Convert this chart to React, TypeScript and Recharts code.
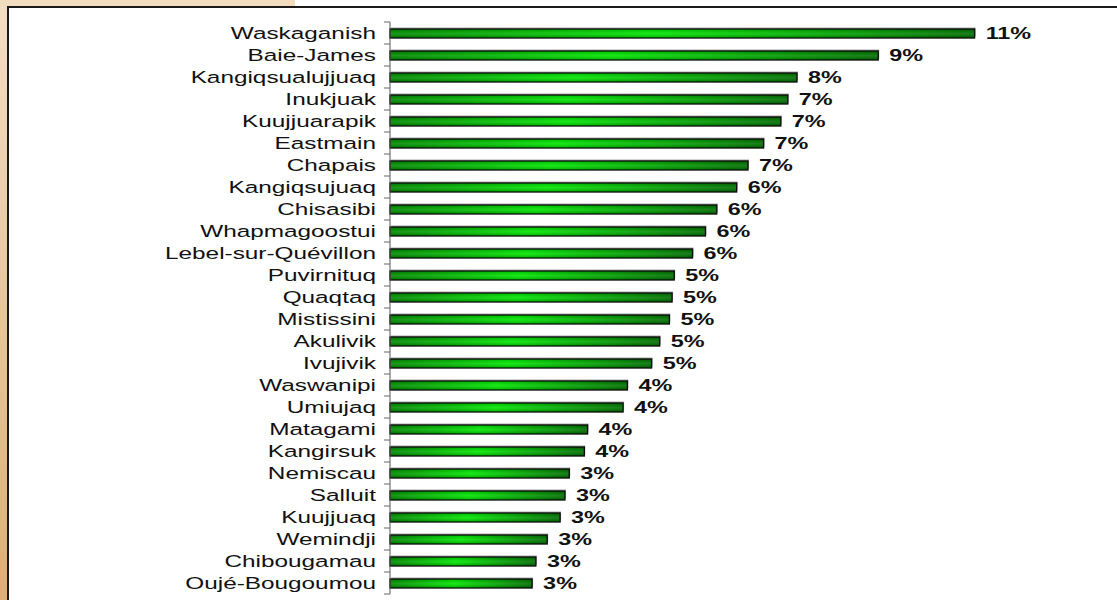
import { Bar, BarChart, LabelList, XAxis, YAxis } from "recharts";

const communities = [
  "Waskaganish",
  "Baie-James",
  "Kangiqsualujjuaq",
  "Inukjuak",
  "Kuujjuarapik",
  "Eastmain",
  "Chapais",
  "Kangiqsujuaq",
  "Chisasibi",
  "Whapmagoostui",
  "Lebel-sur-Quévillon",
  "Puvirnituq",
  "Quaqtaq",
  "Mistissini",
  "Akulivik",
  "Ivujivik",
  "Waswanipi",
  "Umiujaq",
  "Matagami",
  "Kangirsuk",
  "Nemiscau",
  "Salluit",
  "Kuujjuaq",
  "Wemindji",
  "Chibougamau",
  "Oujé-Bougoumou",
];

const shares = [
  10.86, 9.07, 7.56, 7.39, 7.26, 6.94, 6.65, 6.44, 6.07, 5.86, 5.62, 5.28,
  5.24, 5.19, 5.01, 4.86, 4.41, 4.33, 3.67, 3.61, 3.33, 3.25, 3.16, 2.92,
  2.71, 2.64,
];

const xDomain: [number, number] = [0, 12];

const data = communities.map((name, i) => ({ name, value: shares[i] }));

const CHART_W = 1117;
const CHART_H = 600;
const MARGIN = { top: 22, right: 81, bottom: 6, left: 0 };
const AXIS_X = 390;
const BAND = (CHART_H - MARGIN.top - MARGIN.bottom) / communities.length;
const FONT = '"Liberation Sans", Arial, sans-serif';

const CategoryTick = (props: any) => {
  const { y, payload, index } = props;
  const last = index === communities.length - 1;
  return (
    <g>
      <line x1={AXIS_X - 6} x2={AXIS_X} y1={y - BAND / 2} y2={y - BAND / 2} stroke="#666" />
      {last ? (
        <line x1={AXIS_X - 6} x2={AXIS_X} y1={y + BAND / 2} y2={y + BAND / 2} stroke="#666" />
      ) : null}
      <text
        transform={`translate(376, ${y}) scale(1.56, 1)`}
        textAnchor="end"
        dominantBaseline="central"
        fontFamily={FONT}
        fontSize={15.6}
        fill="#111"
      >
        {payload.value}
      </text>
    </g>
  );
};

const GradientBar = (props: any) => {
  const { x, y, width, height } = props;
  if (!width || width <= 0) return null;
  return (
    <g>
      <rect x={x + 1} y={y - 1.5} width={width} height={height} fill="#a8a8a8" />
      <rect x={x} y={y} width={width} height={height} fill="url(#barH)" stroke="#0a0a0a" strokeWidth={1.3} />
      <rect x={x + 0.7} y={y + 0.7} width={width - 1.4} height={height - 1.4} fill="url(#barV)" />
    </g>
  );
};

const ValueLabel = (props: any) => {
  const { x, y, width, height, value } = props;
  return (
    <text
      transform={`translate(${x + width + 11}, ${y + height / 2}) scale(1.5, 1)`}
      dominantBaseline="central"
      fontFamily={FONT}
      fontWeight="bold"
      fontSize={15.6}
      fill="#111"
    >
      {`${Math.round(value)}%`}
    </text>
  );
};

export default function App() {
  return (
    <div
      style={{
        position: "fixed",
        left: 0,
        top: 0,
        width: CHART_W,
        height: CHART_H,
        background: "#fff",
        overflow: "hidden",
      }}
    >
      <svg width={0} height={0} style={{ position: "absolute" }}>
        <defs>
          <linearGradient id="barH" x1="0" y1="0" x2="1" y2="0">
            <stop offset="0%" stopColor="#008800" />
            <stop offset="45%" stopColor="#00e400" />
            <stop offset="100%" stopColor="#006e00" />
          </linearGradient>
          <linearGradient id="barV" x1="0" y1="0" x2="0" y2="1">
            <stop offset="0%" stopColor="#000" stopOpacity={0.12} />
            <stop offset="50%" stopColor="#fff" stopOpacity={0.1} />
            <stop offset="100%" stopColor="#000" stopOpacity={0.18} />
          </linearGradient>
        </defs>
      </svg>
      <div
        style={{
          position: "absolute",
          left: 0,
          top: 0,
          width: 8,
          height: CHART_H,
          background: "linear-gradient(#f3dfc5, #dcae75)",
        }}
      />
      <div
        style={{
          position: "absolute",
          left: 0,
          top: 0,
          width: 295,
          height: 7,
          background: "#f2dcc0",
        }}
      />
      <div
        style={{
          position: "absolute",
          left: 7,
          top: 6,
          width: CHART_W,
          height: CHART_H,
          borderTop: "2px solid #1a1a1a",
          borderLeft: "2px solid #1a1a1a",
        }}
      />
      <div style={{ position: "absolute", left: 0, top: 0 }}>
        <BarChart
          width={CHART_W}
          height={CHART_H}
          data={data}
          layout="vertical"
          margin={MARGIN}
          barSize={9}
        >
          <XAxis type="number" domain={xDomain} hide />
          <YAxis
            type="category"
            dataKey="name"
            width={AXIS_X}
            axisLine={{ stroke: "#555" }}
            tickLine={false}
            tick={<CategoryTick />}
            interval={0}
          />
          <Bar dataKey="value" shape={<GradientBar />} isAnimationActive={false}>
            <LabelList dataKey="value" content={<ValueLabel />} />
          </Bar>
        </BarChart>
      </div>
    </div>
  );
}
